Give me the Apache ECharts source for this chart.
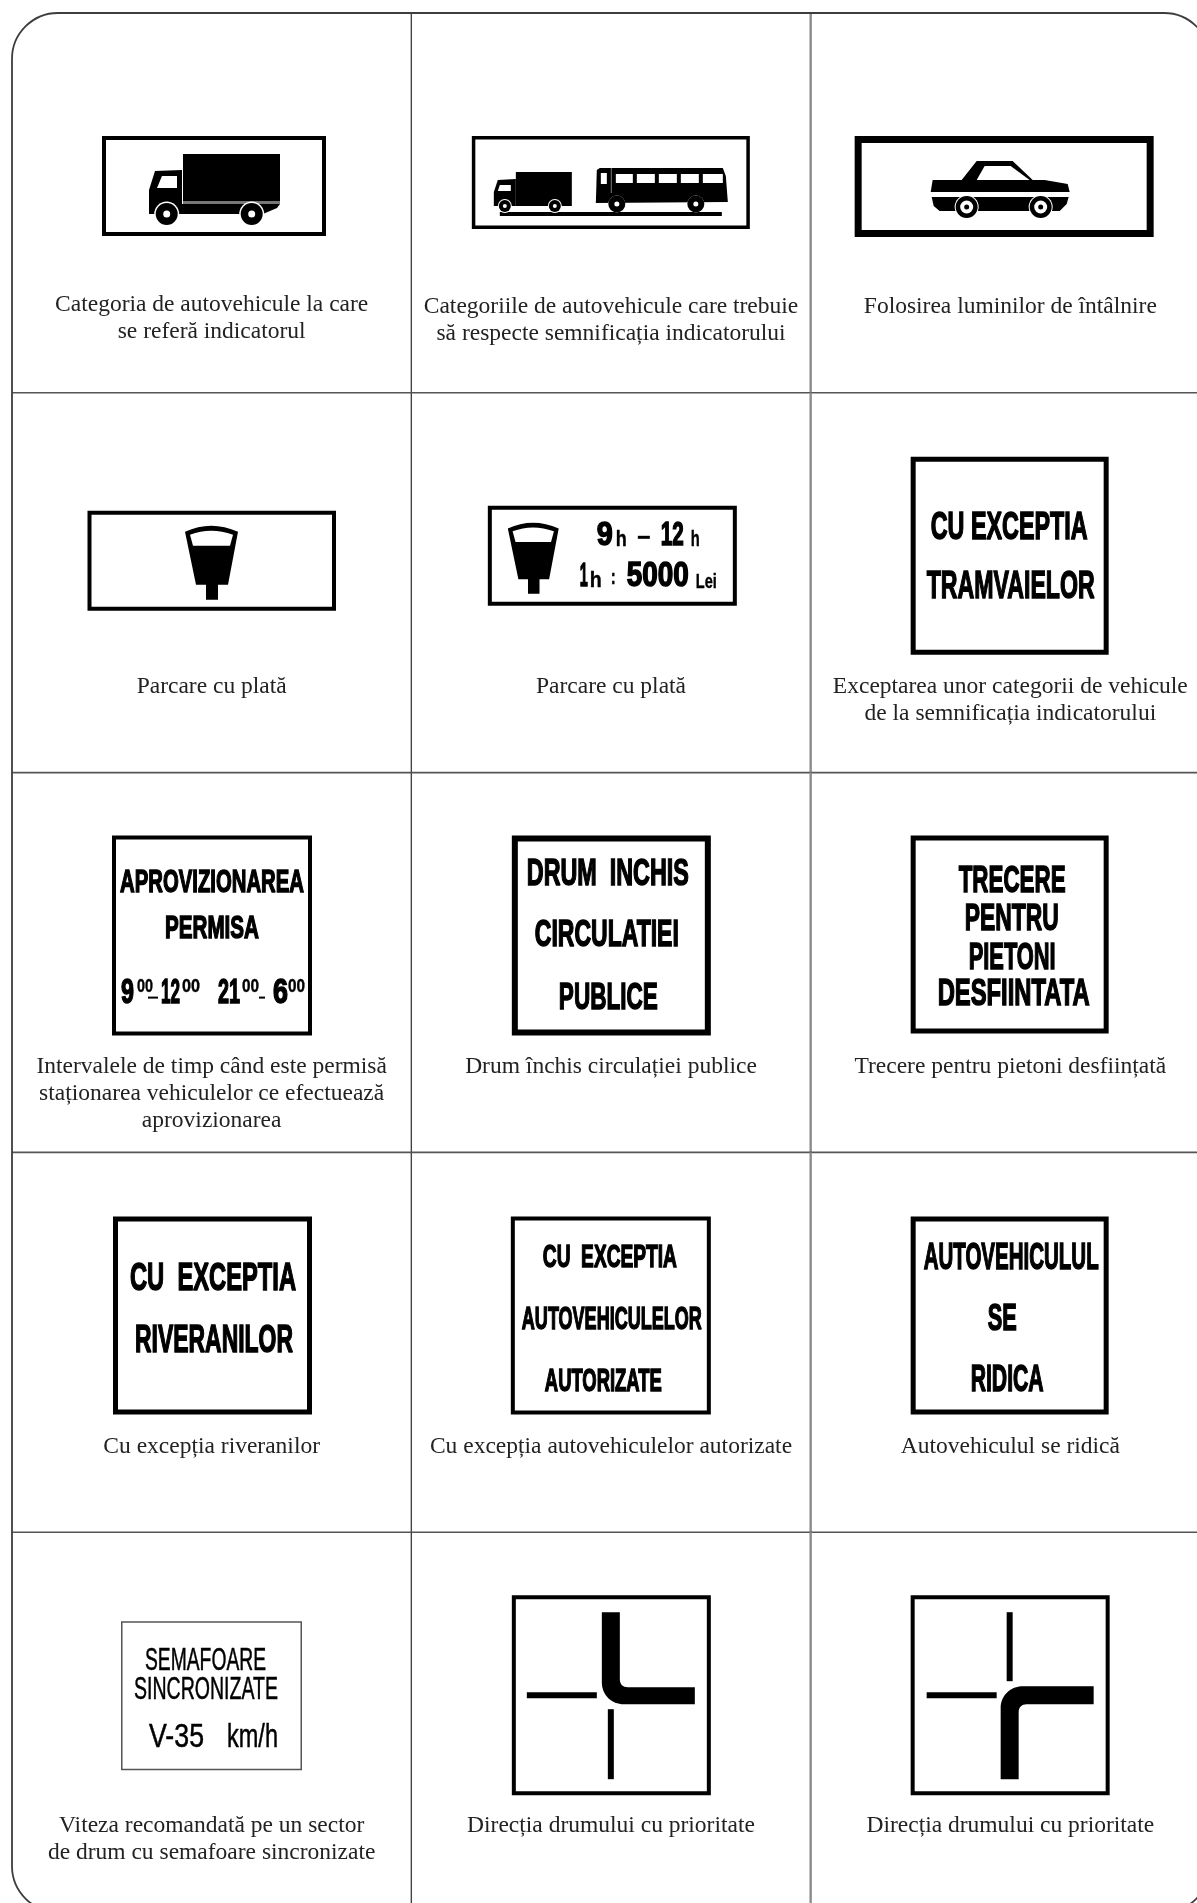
<!DOCTYPE html>
<html>
<head>
<meta charset="utf-8">
<style>html,body{margin:0;padding:0;background:#fff}#c{width:1197px;height:1903px}</style>
<script src="https://cdn.jsdelivr.net/npm/echarts@6/dist/echarts.min.js"></script>
</head>
<body>
<div id="c"></div>
<script>
// ---- table content ----
const columns = ['A', 'B', 'C'];
const rows = ['1', '2', '3', '4', '5'];
const captions = [
  ['Categoria de autovehicule la care', 'se referă indicatorul'],
  ['Categoriile de autovehicule care trebuie', 'să respecte semnificația indicatorului'],
  ['Folosirea luminilor de întâlnire'],
  ['Parcare cu plată'],
  ['Parcare cu plată'],
  ['Exceptarea unor categorii de vehicule', 'de la semnificația indicatorului'],
  ['Intervalele de timp când este permisă', 'staționarea vehiculelor ce efectuează', 'aprovizionarea'],
  ['Drum închis circulației publice'],
  ['Trecere pentru pietoni desființată'],
  ['Cu excepția riveranilor'],
  ['Cu excepția autovehiculelor autorizate'],
  ['Autovehiculul se ridică'],
  ['Viteza recomandată pe un sector', 'de drum cu semafoare sincronizate'],
  ['Direcția drumului cu prioritate'],
  ['Direcția drumului cu prioritate']
];
const signWords = [
  [], [], [], [],
  ['9', 'h', '12', 'h', '1', 'h', ':', '5000', 'Lei'],
  ['CU EXCEPTIA', 'TRAMVAIELOR'],
  ['APROVIZIONAREA', 'PERMISA', '9', '00', '12', '00', '21', '00', '6', '00'],
  ['DRUM  INCHIS', 'CIRCULATIEI', 'PUBLICE'],
  ['TRECERE', 'PENTRU', 'PIETONI', 'DESFIINTATA'],
  ['CU  EXCEPTIA', 'RIVERANILOR'],
  ['CU  EXCEPTIA', 'AUTOVEHICULELOR', 'AUTORIZATE'],
  ['AUTOVEHICULUL', 'SE', 'RIDICA'],
  ['SEMAFOARE', 'SINCRONIZATE', 'V-35', 'km/h'],
  [], []
];

// ---- layout (cell-relative) ----
const signBoxes = [
  [90, 123, 224, 100, 4], [60.5, 123, 278, 93, 3.5], [44, 123, 299, 101, 7],
  [75.5, 118, 248.5, 100, 4], [76.5, 113, 249, 100, 4], [100, 64, 198, 198, 5],
  [100, 63, 200, 200, 4], [100.5, 63, 199, 200, 6], [100, 63, 198, 198, 5],
  [101, 64, 199, 198, 5], [99.5, 64, 200, 198, 4], [100, 64, 198, 198, 5],
  [109, 89, 181, 149, 1.5], [100.5, 63, 199, 200, 4], [100, 63, 199, 200, 4]
];
const wordBoxes = [
  [], [], [], [],
  [[109,125,40,24],[128,139,40,16],[173,196,40,24],[203,212,40,16],[92,100,81,24],[102,114,81,16],[123,128,78,16],[139,201,81,25],[208,229,81,15]],
  [[20,177,83,28],[16,184,142,28]],
  [[8,192,57,23],[53,147,103,23],[9,22,168,25],[25,41,155,13],[49,68,168,25],[70,88,155,13],[106,128,168,25],[130,147,155,13],[161,176,168,25],[176,193,155,13]],
  [[15,177,50,26],[23,167,111,26],[47,146,174,27]],
  [[48,155,57,27],[54,148,95,27],[58,145,134,27],[27,179,170,27]],
  [[17,183,74,28],[22,180,136,28]],
  [[32,166,51,23],[11,191,113,23],[34,151,175,23]],
  [[13,188,53,27],[77,106,114,27],[60,133,175,27]],
  [[24,145,49,22],[13,157,78,22],[28,83,126,24],[106,157,126,24]],
  [], []
];
const thinWordSigns = [12];
const captionTop = 294, captionLead = 27, wordDrop = 2.5;

const ctx = document.createElement('canvas').getContext('2d');
const NARROW = '"Liberation Sans Narrow","Liberation Sans",sans-serif';
function word(text, l, r, base, cap, weight) {
  const size = cap / 0.72;
  ctx.font = weight + ' ' + size + 'px ' + NARROW;
  const w = ctx.measureText(text).width || 1;
  const bold = weight === 'bold';
  return { type: 'text', x: l, y: base - cap / 2 + wordDrop, scaleX: (r - l) / w,
    style: { text, x: 0, y: 0, fontFamily: NARROW, fontSize: size, fontWeight: weight, fill: '#000',
      stroke: '#000', lineWidth: bold ? (cap < 17 ? 0.4 : 1.5) : 0.5,
      align: 'left', verticalAlign: 'middle' } };
}
const rect = (x, y, w, h, fill) => ({ type: 'rect', shape: { x, y, width: w, height: h }, style: { fill: fill || '#000' } });
const poly = (points, fill) => ({ type: 'polygon', shape: { points }, style: { fill: fill || '#000' } });
const circ = (cx, cy, r, fill) => ({ type: 'circle', shape: { cx, cy, r }, style: { fill: fill || '#000' } });
const path = (pathData, fill, extra) => Object.assign({ type: 'path', shape: { pathData }, style: { fill: fill || '#000' } }, extra || {});
const wheel = (x, y, r, arch, core) => [circ(x, y, r + arch, '#fff'), circ(x, y, r), circ(x, y, core, '#fff')];

function meter(x, y, s) {
  const t = { x, y, scaleX: s, scaleY: s };
  return [
    path('M0 9 Q26 -3 53 9 L43 62 L33 62 L33 77 L21 77 L21 62 L11 62 Z', '#000', t),
    path('M5 12 Q26 4 48 12 L45 23 L8 23 Z', '#fff', t)
  ];
}
const pictograms = [
  () => [
    rect(81, 18, 97, 47),
    rect(81, 65, 97, 3, '#777'),
    poly([[47, 78], [47, 54], [53, 35], [80, 34], [80, 68], [178, 68], [175, 72], [161, 78]]),
    poly([[55, 52], [60, 40], [75, 40], [75, 52]], '#fff'),
    ...wheel(64.7, 78, 11, 1.5, 3.5), ...wheel(149.7, 78, 11, 1.5, 3.5)
  ],
  () => [
    rect(28, 76, 222, 4),
    rect(44, 36, 56, 34),
    poly([[22, 69], [22, 56], [26, 44], [44, 43], [44, 70], [22, 70]]),
    poly([[28, 49], [39, 49], [39, 55], [26, 55]], '#fff'),
    ...wheel(33, 70, 6, 1, 2), ...wheel(83, 70, 6, 1, 2),
    poly([[124, 67], [125, 34], [128, 32], [251, 32], [254, 40], [256, 66]]),
    rect(129, 37, 6, 11, '#fff'), rect(139, 32, 0.8, 25, '#999'),
    rect(144, 38, 17, 9, '#fff'), rect(165, 38, 18, 9, '#fff'),
    rect(187, 38, 18, 9, '#fff'), rect(209, 38, 18, 9, '#fff'), rect(231, 38, 20, 9, '#fff'),
    ...wheel(145, 68, 8.5, 0, 2.5), ...wheel(224, 68, 8.5, 0, 2.5)
  ],
  () => [
    poly([[107, 44], [122, 25], [158, 25], [178, 44]]),
    poly([[122, 44], [130, 30], [156, 30], [175, 44]], '#fff'),
    poly([[78, 44], [190, 44], [213, 48], [215, 56], [76, 56]]),
    poly([[77, 61], [214, 61], [212, 68], [205, 75], [85, 75], [79, 70]]),
    circ(112, 71, 12, '#fff'), circ(112, 71, 11), circ(112, 71, 6.5, '#fff'), circ(112, 71, 2.5),
    circ(186, 71, 12, '#fff'), circ(186, 71, 11), circ(186, 71, 6.5, '#fff'), circ(186, 71, 2.5)
  ],
  () => meter(97.5, 12, 1),
  () => [...meter(20, 14, 0.96), rect(150, 30, 12, 3)],
  () => [],
  () => [rect(36, 161, 10, 2), rect(147, 161, 6, 2)],
  () => [], () => [], () => [], () => [], () => [], () => [],
  () => [
    path('M90 17 H108 V84 C108 89 111 92 116 92 H183 V109 H112 C100 109 90 100 90 87 Z'),
    rect(15, 97, 70, 6), rect(96, 114, 6, 70)
  ],
  () => [
    path('M183 91 V109 H116 C111 109 108 112 108 117 V184 H90 V113 C90 100 100 91 112 91 Z'),
    rect(96, 17, 6, 69), rect(16, 97, 70, 6)
  ]
];

const cellData = captions.map((_, i) => [i % 3, Math.floor(i / 3), i]);

function renderCell(params, api) {
  const i = api.value(2), col = api.value(0), row = api.value(1);
  const c = api.coord([col, row]);
  const size = api.size([1, 1]);
  const L = c[0] - size[0] / 2, T = c[1] - size[1] / 2;
  const children = [];
  if (col < 2) {
    children.push({ type: 'line', shape: { x1: L + size[0], y1: T, x2: L + size[0], y2: T + size[1] },
      style: { stroke: col === 0 ? '#444' : '#8c8c8c', lineWidth: col === 0 ? 1.4 : 2.4 } });
  }
  if (row < 4) {
    children.push({ type: 'line', shape: { x1: L, y1: T + size[1], x2: L + size[0], y2: T + size[1] },
      style: { stroke: '#555', lineWidth: 1.6 } });
  }
  const b = signBoxes[i], bw = b[4], thin = bw < 2;
  const signKids = [
    { type: 'rect', shape: { x: bw / 2, y: bw / 2, width: b[2] - bw, height: b[3] - bw },
      style: { fill: '#fff', stroke: thin ? '#555' : '#000', lineWidth: bw } }
  ].concat(pictograms[i]());
  const weight = thinWordSigns.includes(i) ? 'normal' : 'bold';
  signWords[i].forEach((w, k) => {
    const q = wordBoxes[i][k];
    signKids.push(word(w, q[0], q[1], q[2], q[3], weight));
  });
  children.push({ type: 'group', x: L + b[0], y: T + b[1], children: signKids });
  const nudge = i === 0 ? -2 : 0;
  captions[i].forEach((line, k) => {
    children.push({ type: 'text', x: c[0], y: T + captionTop + nudge + k * captionLead,
      style: { text: line, fontFamily: '"Liberation Serif",serif', fontSize: 23.5, fill: '#222', align: 'center', verticalAlign: 'middle' } });
  });
  return { type: 'group', children };
}

function renderFrame(params, api) {
  const a = api.coord([0, 0]), s = api.size([1, 1]);
  const x = a[0] - s[0] / 2, y = a[1] - s[1] / 2;
  return { type: 'rect', shape: { x, y, width: s[0] * columns.length, height: s[1] * rows.length, r: 46 },
    style: { fill: 'none', stroke: '#3d3d3d', lineWidth: 1.8 } };
}

const chart = echarts.init(document.getElementById('c'), null, { renderer: 'canvas' });
chart.setOption({
  animation: false,
  backgroundColor: '#fff',
  grid: { left: 12, top: 13, width: 1198, height: 1899, containLabel: false, outerBoundsMode: 'none' },
  xAxis: { type: 'category', data: columns, show: false },
  yAxis: { type: 'category', data: rows, inverse: true, show: false },
  tooltip: { show: false },
  series: [
    { type: 'custom', coordinateSystem: 'cartesian2d', clip: false, silent: true,
      data: cellData, encode: { x: 0, y: 1 }, renderItem: renderCell },
    { type: 'custom', coordinateSystem: 'cartesian2d', clip: false, silent: true,
      data: [[0, 0]], encode: { x: 0, y: 1 }, renderItem: renderFrame }
  ]
});
</script>
</body>
</html>
